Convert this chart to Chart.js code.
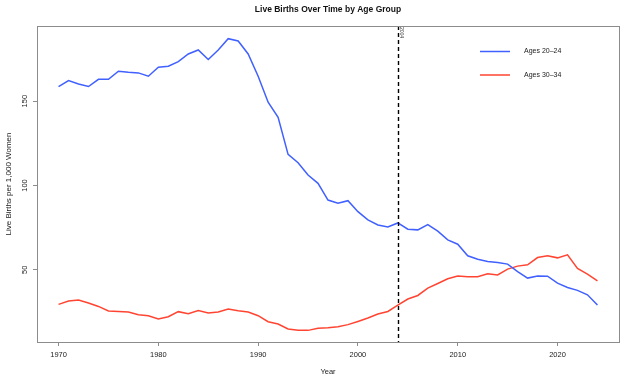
<!DOCTYPE html>
<html>
<head>
<meta charset="utf-8">
<script src="https://cdn.jsdelivr.net/npm/chart.js@4"></script>
<style>
html,body{margin:0;padding:0;background:#fff}
</style>
</head>
<body>
<canvas id="chart" width="640" height="383"></canvas>
<script>
// data
const years=[1970,1971,1972,1973,1974,1975,1976,1977,1978,1979,
1980,1981,1982,1983,1984,1985,1986,1987,1988,1989,
1990,1991,1992,1993,1994,1995,1996,1997,1998,1999,
2000,2001,2002,2003,2004,2005,2006,2007,2008,2009,
2010,2011,2012,2013,2014,2015,2016,2017,2018,2019,
2020,2021,2022,2023,2024]

const ages2024=[158.7,162.2,160.2,158.7,163.0,163.0,167.8,167.2,166.8,164.8,
170.1,170.7,173.5,178.0,180.4,174.7,180.4,187.1,185.7,178.0,
164.8,149.4,140.5,118.5,113.5,106.2,101.3,91.4,89.5,91.0,
84.5,79.6,76.6,75.4,77.8,74.1,73.7,76.8,72.9,67.8,
65.2,58.3,56.3,54.9,54.3,53.4,49.0,45.1,46.4,46.2,
42.1,39.5,37.8,35.2,29.1]

const ages3034=[29.5,31.5,32.1,30.3,28.3,25.6,25.3,25.0,23.4,22.8,
20.8,22.2,25.2,24.0,25.9,24.4,25.0,26.7,25.7,25.0,
22.8,19.2,17.9,14.9,14.1,14.1,15.3,15.7,16.3,17.5,
19.4,21.4,23.8,25.3,29.1,32.7,34.8,39.2,41.9,44.7,
46.3,45.9,45.9,47.6,47.0,50.4,52.2,53.0,57.3,58.3,
57.1,58.9,50.8,47.5,43.5]

const seriesNames=["Ages 20–24","Ages 30–34"]
const seriesColors=["#4060ff","#ff4532"]
const xTicks=[1970,1980,1990,2000,2010,2020]
const yTicks=[50,100,150]
const markYear=2004

const font="'Liberation Sans', Arial, sans-serif"

const extras={
id:"extras",
afterDatasetsDraw(chart){
let ctx=chart.ctx
let ca=chart.chartArea
let x=chart.scales.x
ctx.save()
// marker line
let mx=Math.round(x.getPixelForValue(markYear))+0.5
ctx.strokeStyle="#000"
ctx.lineWidth=1.4
ctx.setLineDash([4,3])
ctx.beginPath()
ctx.moveTo(mx,ca.top)
ctx.lineTo(mx,ca.bottom)
ctx.stroke()
ctx.setLineDash([])
ctx.translate(mx+3,ca.top+1)
ctx.rotate(Math.PI/2)
ctx.fillStyle="#333"
ctx.font="5px "+font
ctx.textAlign="left"
ctx.textBaseline="middle"
ctx.fillText(String(markYear),0,0)
ctx.restore()
},
afterDraw(chart){
let ctx=chart.ctx
let ca=chart.chartArea
let y=chart.scales.y
ctx.save()
// box
ctx.strokeStyle="#8c8c8c"
ctx.lineWidth=1
ctx.strokeRect(ca.left+0.5,ca.top+0.5,ca.right-ca.left,ca.bottom-ca.top)
// title
ctx.fillStyle="#111"
ctx.font="bold 8.5px "+font
ctx.textAlign="center"
ctx.textBaseline="middle"
ctx.fillText("Live Births Over Time by Age Group",(ca.left+ca.right)/2,10)
// x title
ctx.font="7.5px "+font
ctx.fillStyle="#222"
ctx.fillText("Year",(ca.left+ca.right)/2,372)
// y tick labels
ctx.font="7.5px "+font
y.ticks.forEach(t=>{
let py=y.getPixelForValue(t.value)
ctx.save()
ctx.translate(25,py)
ctx.rotate(-Math.PI/2)
ctx.fillText(String(t.value),0,0)
ctx.restore()
})
// y title
ctx.save()
ctx.translate(9,(ca.top+ca.bottom)/2)
ctx.rotate(-Math.PI/2)
ctx.font="8px "+font
ctx.fillText("Live Births per 1,000 Women",0,0)
ctx.restore()
// legend
ctx.font="7px "+font
ctx.textAlign="left"
seriesNames.forEach((n,i)=>{
let ly=51.5+i*23.5
ctx.strokeStyle=seriesColors[i]
ctx.lineWidth=1.5
ctx.beginPath()
ctx.moveTo(480,ly)
ctx.lineTo(510,ly)
ctx.stroke()
ctx.fillStyle="#222"
ctx.fillText(n,524,ly)
})
ctx.restore()
}
}

new Chart(document.getElementById("chart"),{
type:"line",
data:{
datasets:[
{label:seriesNames[0],data:years.map((yr,i)=>({x:yr,y:ages2024[i]})),borderColor:seriesColors[0],borderWidth:1.5,pointRadius:0,tension:0,fill:false},
{label:seriesNames[1],data:years.map((yr,i)=>({x:yr,y:ages3034[i]})),borderColor:seriesColors[1],borderWidth:1.5,pointRadius:0,tension:0,fill:false}
]
},
options:{
responsive:false,
animation:false,
devicePixelRatio:1,
layout:{padding:{top:26,right:21,left:0,bottom:0}},
plugins:{legend:{display:false},tooltip:{enabled:false},title:{display:false}},
scales:{
x:{
type:"linear",
min:1967.84,
max:2026.16,
afterBuildTicks:s=>{s.ticks=xTicks.map(v=>({value:v}))},
afterFit:s=>{s.height=41},
border:{display:false},
grid:{drawOnChartArea:false,drawTicks:true,tickLength:4,color:"#8c8c8c"},
ticks:{autoSkip:false,maxRotation:0,minRotation:0,padding:4,color:"#222",font:{size:7.5,family:font},callback:v=>String(v)}
},
y:{
min:7.2,
max:194.6,
afterBuildTicks:s=>{s.ticks=yTicks.map(v=>({value:v}))},
afterFit:s=>{s.width=37},
border:{display:false},
grid:{drawOnChartArea:false,drawTicks:true,tickLength:4,color:"#8c8c8c"},
ticks:{display:false}
}
}
},
plugins:[extras]
})
</script>
</body>
</html>
